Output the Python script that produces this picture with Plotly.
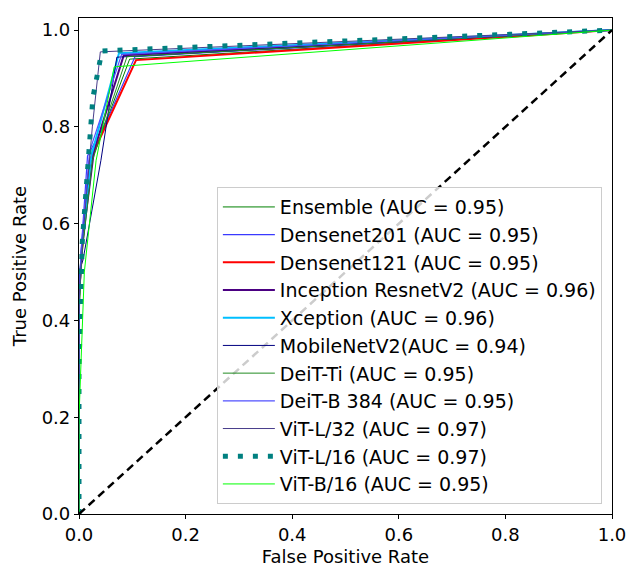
import plotly.graph_objects as go

# ---- data ----
labels = ["Ensemble (AUC = 0.95)", "Densenet201 (AUC = 0.95)", "Densenet121 (AUC = 0.95)",
          "Inception ResnetV2 (AUC = 0.96)", "Xception (AUC = 0.96)", "MobileNetV2(AUC = 0.94)",
          "DeiT-Ti (AUC = 0.95)", "DeiT-B 384 (AUC = 0.95)", "ViT-L/32 (AUC = 0.97)",
          "ViT-L/16 (AUC = 0.97)", "ViT-B/16 (AUC = 0.95)"]

fpr_ensemble = [0, 0, 0.004, 0.02, 0.095, 1]
tpr_ensemble = [0, 0.40, 0.52, 0.72, 0.94, 1]
fpr_densenet201 = [0, 0, 0.005, 0.016, 0.055, 0.105, 1]
tpr_densenet201 = [0, 0.45, 0.56, 0.74, 0.82, 0.945, 1]
fpr_densenet121 = [0, 0, 0.006, 0.02, 0.107, 1]
tpr_densenet121 = [0, 0.45, 0.55, 0.73, 0.938, 1]
fpr_inception = [0, 0, 0.006, 0.028, 0.084, 1]
tpr_inception = [0, 0.45, 0.56, 0.75, 0.948, 1]
fpr_xception = [0, 0, 0.006, 0.023, 0.075, 1]
tpr_xception = [0, 0.45, 0.56, 0.74, 0.952, 1]
fpr_mobilenet = [0, 0, 0.0075, 0.041, 0.071, 1]
tpr_mobilenet = [0, 0.50, 0.525, 0.73, 0.944, 1]
fpr_deit_ti = [0, 0, 0.005, 0.025, 0.09, 1]
tpr_deit_ti = [0, 0.42, 0.53, 0.73, 0.945, 1]
fpr_deit_b = [0, 0, 0.005, 0.02, 0.08, 1]
tpr_deit_b = [0, 0.45, 0.56, 0.75, 0.95, 1]
fpr_vit_l32 = [0, 0, 0.008, 0.025, 0.04, 1]
tpr_vit_l32 = [0, 0.45, 0.58, 0.80, 0.955, 1]
fpr_vit_l16 = [0, 0, 0.006, 0.017, 0.026, 0.043, 1]
tpr_vit_l16 = [0, 0.30, 0.56, 0.74, 0.86, 0.957, 1]
fpr_vit_b16 = [0, 0, 0.01, 0.032, 0.066, 1]
tpr_vit_b16 = [0, 0.20, 0.50, 0.73, 0.924, 1]

diag_x = [0, 1]
diag_y = [0, 1]

x_ticks = [0.0, 0.2, 0.4, 0.6, 0.8, 1.0]
y_ticks = [0.0, 0.2, 0.4, 0.6, 0.8, 1.0]

curves = [
    (fpr_ensemble, tpr_ensemble, "#008000", 1.0, "solid"),
    (fpr_densenet201, tpr_densenet201, "#3a3aff", 1.2, "solid"),
    (fpr_densenet121, tpr_densenet121, "#ff0000", 2.0, "solid"),
    (fpr_inception, tpr_inception, "#4B0082", 2.0, "solid"),
    (fpr_xception, tpr_xception, "#00BFFF", 2.0, "solid"),
    (fpr_mobilenet, tpr_mobilenet, "#000080", 1.0, "solid"),
    (fpr_deit_ti, tpr_deit_ti, "#228B22", 1.0, "solid"),
    (fpr_deit_b, tpr_deit_b, "#5050ff", 1.2, "solid"),
    (fpr_vit_l32, tpr_vit_l32, "#483D8B", 1.0, "solid"),
    (fpr_vit_l16, tpr_vit_l16, "#008080", 5.0, "5px,10px"),
    (fpr_vit_b16, tpr_vit_b16, "#00FF00", 1.0, "solid"),
]

FONT = "DejaVu Sans"
FS = 19
TFS = 18
fig = go.Figure()
for i, ((fx, ty, col, w, dash), lab) in enumerate(zip(curves, labels)):
    fig.add_trace(go.Scatter(x=fx, y=ty, mode="lines", name=lab, legendgroup=f"g{i}",
                             line=dict(color=col, width=w, dash=dash)))

fig.add_trace(go.Scatter(x=diag_x, y=diag_y, mode="lines", showlegend=False,
                         line=dict(color="black", width=2.5, dash="8px,5px")))

axis_common = dict(showline=True, linecolor="black", linewidth=1.2, mirror=True,
                   ticks="outside", ticklen=4, tickwidth=1.2, tickcolor="black",
                   showgrid=False, zeroline=False, automargin=False,
                   ticklabeloverflow="allow",
                   tickfont=dict(family=FONT, size=TFS, color="black"),
                   tickformat=".1f")

fig.update_xaxes(range=[0, 1], tickvals=x_ticks,
                 title=dict(text="False Positive Rate", font=dict(family=FONT, size=TFS, color="black"), standoff=6),
                 **axis_common)
fig.update_yaxes(range=[0, 1.025], tickvals=y_ticks,
                 title=dict(text="True Positive Rate", font=dict(family=FONT, size=TFS, color="black"), standoff=10),
                 **axis_common)

fig.update_layout(
    width=626, height=573,
    margin=dict(l=79, r=14, t=18, b=59),
    plot_bgcolor="white", paper_bgcolor="white",
    font=dict(family=FONT, size=FS, color="black"),
    legend=dict(x=0.981, y=0.02, xanchor="right", yanchor="bottom",
                bgcolor="rgba(255,255,255,0.8)", bordercolor="#cccccc", borderwidth=1,
                font=dict(family=FONT, size=FS, color="black"),
                itemwidth=52,
                tracegroupgap=3, traceorder="normal"),
)

# remove the default page margin and scrollbars so the figure fills the window
fig.write_html("out.html", config={"displayModeBar": False}, post_script=(
    "document.body.style.margin='0';"
    "document.body.style.overflow='hidden';"
    "document.documentElement.style.overflow='hidden';"
))
